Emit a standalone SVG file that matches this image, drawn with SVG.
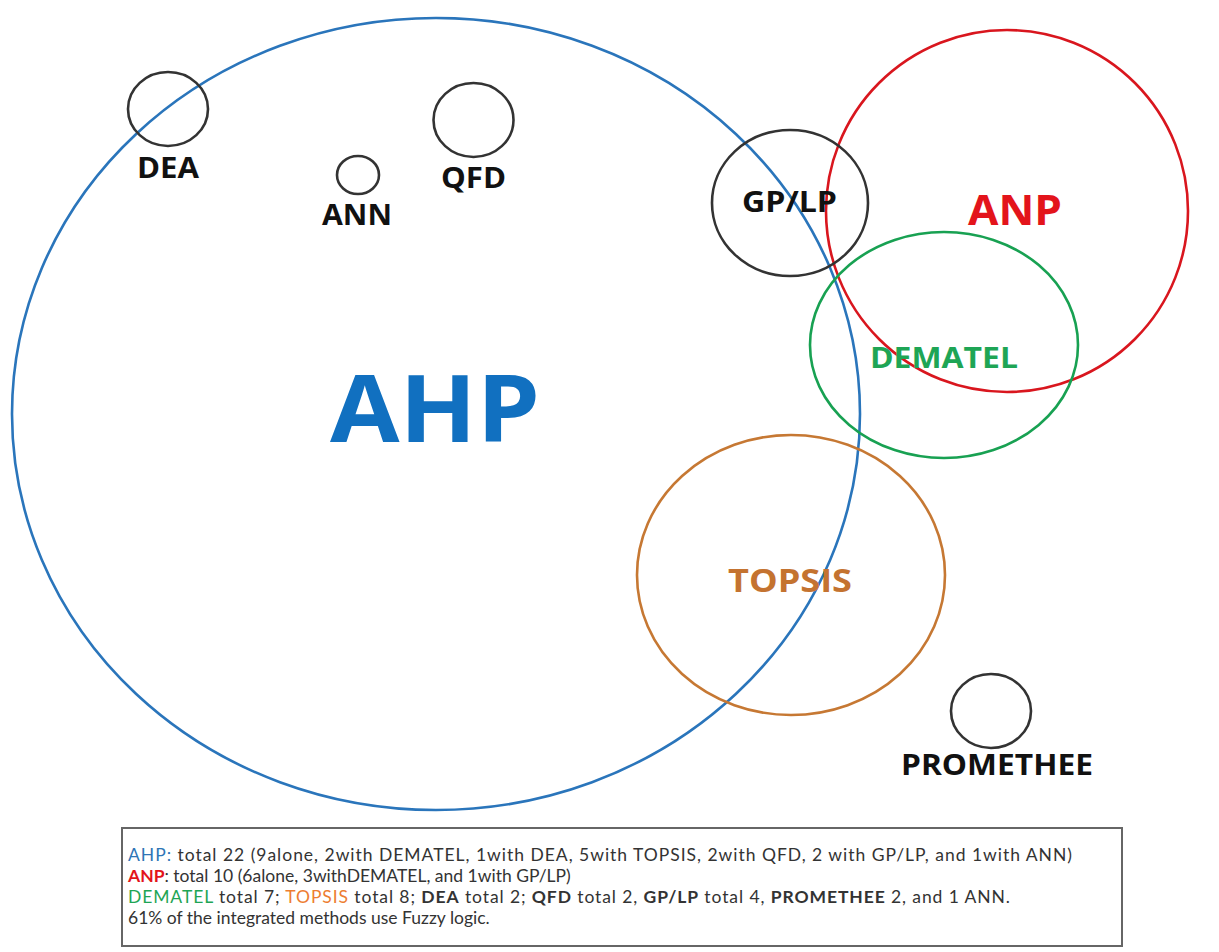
<svg xmlns="http://www.w3.org/2000/svg" width="1219" height="952" viewBox="0 0 1219 952">
  <style>
    .ring { fill: none; stroke-width: 2.6; }
    .dark { stroke: #333333; }
    .lbl { font-family: "Open Sans", "Noto Sans", sans-serif; font-weight: 700; text-anchor: middle; }
    .note { font-family: Lato, "Open Sans", sans-serif; font-size: 17.5px; fill: #333333; }
    .b { font-weight: 700; }
  </style>
  <rect width="1219" height="952" fill="#ffffff"/>

  <g id="ahp">
    <ellipse class="ring" cx="436" cy="414" rx="424" ry="396" stroke="#2a75bb"/>
    <text class="lbl" x="435" y="442" font-size="94" fill="#1170c0" textLength="210" lengthAdjust="spacingAndGlyphs">AHP</text>
  </g>

  <g id="anp">
    <ellipse class="ring" cx="1007" cy="211" rx="181" ry="181" stroke="#d9161e"/>
    <text class="lbl" x="1015" y="225" font-size="42" fill="#e3141b" textLength="94" lengthAdjust="spacingAndGlyphs">ANP</text>
  </g>

  <g id="gplp">
    <ellipse class="ring dark" cx="790" cy="203" rx="78" ry="73"/>
    <text class="lbl" x="789.5" y="212" font-size="28" fill="#111111" textLength="95" lengthAdjust="spacingAndGlyphs">GP/LP</text>
  </g>

  <g id="dematel">
    <ellipse class="ring" cx="944" cy="345" rx="134" ry="113" stroke="#18a152"/>
    <text class="lbl" x="944" y="368" font-size="29" fill="#1ea555" textLength="148" lengthAdjust="spacingAndGlyphs">DEMATEL</text>
  </g>

  <g id="topsis">
    <ellipse class="ring" cx="791" cy="575" rx="154" ry="140" stroke="#c67833"/>
    <text class="lbl" x="790" y="592" font-size="33" fill="#c47330" textLength="124" lengthAdjust="spacingAndGlyphs">TOPSIS</text>
  </g>

  <g id="dea">
    <ellipse class="ring dark" cx="168" cy="109" rx="40" ry="37"/>
    <text class="lbl" x="168" y="178" font-size="29" fill="#111111" textLength="62" lengthAdjust="spacingAndGlyphs">DEA</text>
  </g>

  <g id="ann">
    <ellipse class="ring dark" cx="358" cy="175" rx="21" ry="19"/>
    <text class="lbl" x="357" y="225" font-size="29" fill="#111111" textLength="70" lengthAdjust="spacingAndGlyphs">ANN</text>
  </g>

  <g id="qfd">
    <ellipse class="ring dark" cx="473.5" cy="120" rx="40" ry="37"/>
    <text class="lbl" x="473.5" y="188" font-size="29" fill="#111111" textLength="65" lengthAdjust="spacingAndGlyphs">QFD</text>
  </g>

  <g id="promethee">
    <ellipse class="ring dark" cx="991" cy="711" rx="40" ry="37"/>
    <text class="lbl" x="997" y="775" font-size="28" fill="#111111" textLength="192" lengthAdjust="spacingAndGlyphs">PROMETHEE</text>
  </g>

  <g id="connectors"/>

  <g id="legend">
    <rect x="122" y="828" width="1000" height="118" fill="#ffffff" stroke="#666666" stroke-width="2"/>
    <text class="note" x="128" y="861" textLength="944" lengthAdjust="spacing"><tspan fill="#2e75b6">AHP:</tspan> total 22 (9alone, 2with DEMATEL, 1with DEA, 5with TOPSIS, 2with QFD, 2 with GP/LP, and 1with ANN)</text>
    <text class="note" x="128" y="882"><tspan fill="#e3141b" class="b">ANP</tspan>: total 10 (6alone, 3withDEMATEL, and 1with GP/LP)</text>
    <text class="note" x="128" y="903" textLength="882" lengthAdjust="spacing"><tspan fill="#1ea555">DEMATEL</tspan> total 7; <tspan fill="#ed7d31">TOPSIS</tspan> total 8; <tspan class="b">DEA</tspan> total 2; <tspan class="b">QFD</tspan> total 2, <tspan class="b">GP/LP</tspan> total 4, <tspan class="b">PROMETHEE</tspan> 2, and 1 ANN.</text>
    <text class="note" x="128" y="924">61% of the integrated methods use Fuzzy logic.</text>
  </g>
</svg>
